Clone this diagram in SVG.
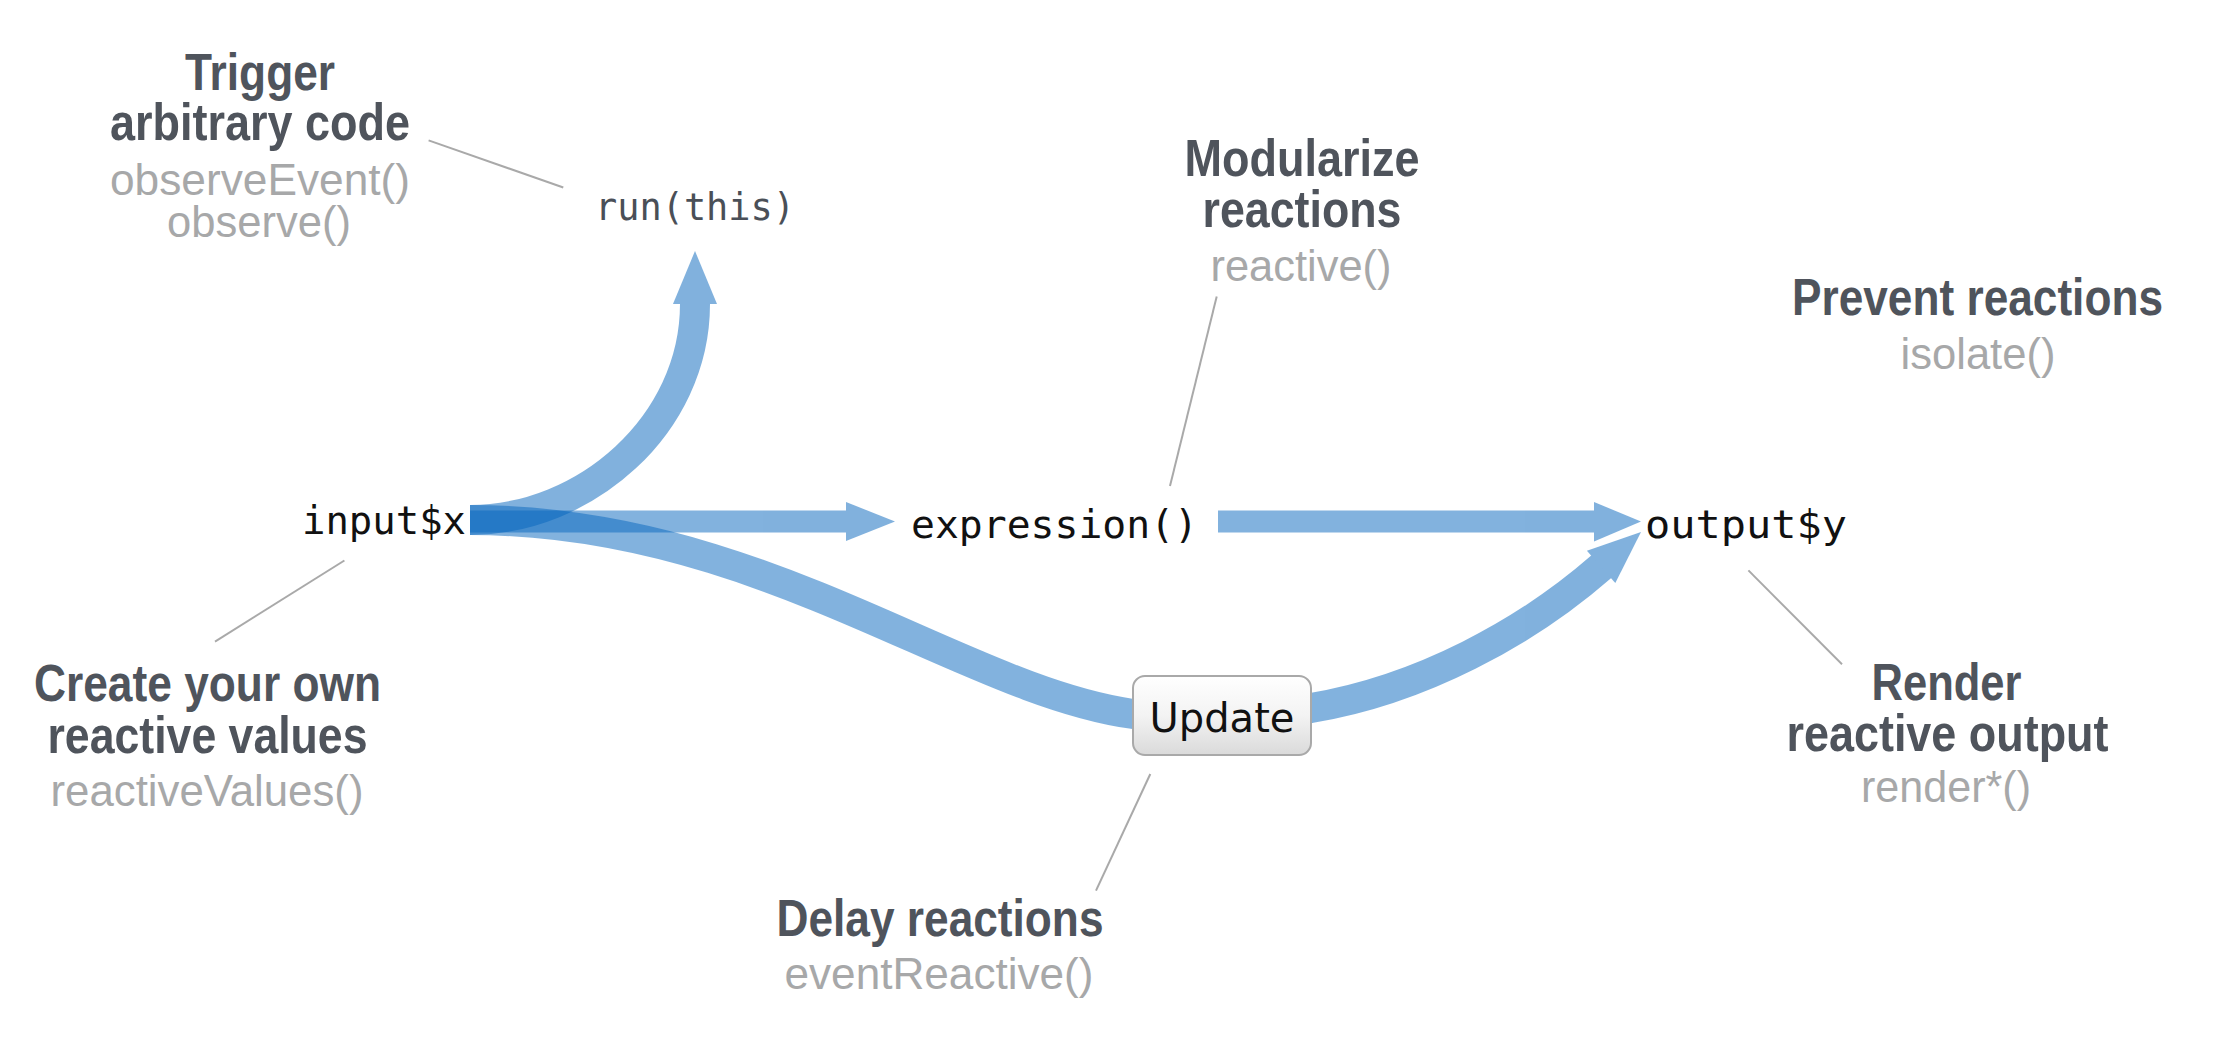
<svg xmlns="http://www.w3.org/2000/svg" width="2224" height="1038" viewBox="0 0 2224 1038">
  <defs>
    <linearGradient id="btnFill" x1="0" y1="0" x2="0" y2="1">
      <stop offset="0" stop-color="#ffffff"/>
      <stop offset="0.5" stop-color="#f3f3f3"/>
      <stop offset="1" stop-color="#dadada"/>
    </linearGradient>
    <style>
      .head { font-family: "Liberation Sans", Arial, sans-serif; font-weight: bold; font-size: 52px; fill: #4f545c; text-anchor: middle; }
      .fn { font-family: "Liberation Sans", Arial, sans-serif; font-size: 44px; fill: #a7a8a9; text-anchor: middle; }
      .code { font-family: "DejaVu Sans Mono", "Liberation Mono", monospace; font-size: 39px; fill: #111111; }
      .leader { stroke: #a9a9a9; stroke-width: 2; fill: none; }
      .flow { opacity: 0.5; }
      .flow path { fill: none; stroke: #0565bd; }
      .flow polygon { fill: #0565bd; }
      .btn-label { font-family: "DejaVu Sans", "Open Sans", sans-serif; font-size: 40px; fill: #111111; text-anchor: middle; }
    </style>
  </defs>
  <rect width="2224" height="1038" fill="#ffffff"/>

  <!-- connectors: reactive flows and annotation leaders -->
  <g id="connectors">
    <g id="flow-input-run" class="flow">
      <path d="M470,520 C585,520 695,425 695,304 L695,298" stroke-width="30"/>
      <polygon points="673,304 695,251 717,304"/>
    </g>
    <g id="flow-input-expression" class="flow">
      <path d="M470,521.5 H849" stroke-width="22"/>
      <polygon points="846,502 895,521.5 846,541"/>
    </g>
    <g id="flow-expression-output" class="flow">
      <path d="M1218,521.5 H1597" stroke-width="22"/>
      <polygon points="1594,502 1641,521.5 1594,541.5"/>
    </g>
    <g id="flow-input-update-output" class="flow">
      <path d="M470,520 C760,520 960,690 1133,714 L1311,708 C1420,690 1525.8,632.7 1601.1,566.9 L1603.4,564.9" stroke-width="30"/>
      <polygon points="1586.9,550.7 1641,532 1615.3,583.1"/>
    </g>
    <line class="leader" x1="428.6" y1="140.4" x2="563.3" y2="187.5"/>
    <line class="leader" x1="1216.7" y1="296.6" x2="1170" y2="486"/>
    <line class="leader" x1="344.4" y1="560.5" x2="215" y2="641.6"/>
    <line class="leader" x1="1150.3" y1="774" x2="1096" y2="890.7"/>
    <line class="leader" x1="1748.4" y1="570.4" x2="1842" y2="664.2"/>
  </g>

  <!-- code nodes -->
  <g id="node-input">
    <text class="code" x="302" y="534" textLength="164" lengthAdjust="spacingAndGlyphs">input$x</text>
  </g>
  <g id="node-run">
    <text class="code" x="595" y="220" style="font-size:37px;fill:#4a4f57" textLength="200" lengthAdjust="spacingAndGlyphs">run(this)</text>
  </g>
  <g id="node-expression">
    <text class="code" x="911" y="538" textLength="287" lengthAdjust="spacingAndGlyphs">expression()</text>
  </g>
  <g id="node-output">
    <text class="code" x="1645" y="538" textLength="202" lengthAdjust="spacingAndGlyphs">output$y</text>
  </g>
  <g id="node-update">
    <rect x="1133" y="676" width="178" height="79" rx="12" ry="12" fill="url(#btnFill)" stroke="#a9a9a9" stroke-width="2"/>
    <text class="btn-label" x="1222" y="732">Update</text>
  </g>

  <!-- annotations -->
  <g id="note-trigger">
    <text class="head" x="260" y="90" textLength="150" lengthAdjust="spacingAndGlyphs">Trigger</text>
    <text class="head" x="260" y="140" textLength="300" lengthAdjust="spacingAndGlyphs">arbitrary code</text>
    <text class="fn" x="260" y="195" textLength="300" lengthAdjust="spacingAndGlyphs">observeEvent()</text>
    <text class="fn" x="259" y="237" textLength="184" lengthAdjust="spacingAndGlyphs">observe()</text>
  </g>
  <g id="note-modularize">
    <text class="head" x="1302" y="176" textLength="235" lengthAdjust="spacingAndGlyphs">Modularize</text>
    <text class="head" x="1302" y="226.5" textLength="199" lengthAdjust="spacingAndGlyphs">reactions</text>
    <text class="fn" x="1301" y="281" textLength="181" lengthAdjust="spacingAndGlyphs">reactive()</text>
  </g>
  <g id="note-prevent">
    <text class="head" x="1977.5" y="315" textLength="371" lengthAdjust="spacingAndGlyphs">Prevent reactions</text>
    <text class="fn" x="1978" y="368.5" textLength="155" lengthAdjust="spacingAndGlyphs">isolate()</text>
  </g>
  <g id="note-create">
    <text class="head" x="207.5" y="701" textLength="347" lengthAdjust="spacingAndGlyphs">Create your own</text>
    <text class="head" x="207.5" y="752.5" textLength="320" lengthAdjust="spacingAndGlyphs">reactive values</text>
    <text class="fn" x="207" y="806" textLength="313" lengthAdjust="spacingAndGlyphs">reactiveValues()</text>
  </g>
  <g id="note-delay">
    <text class="head" x="940" y="935.5" textLength="327" lengthAdjust="spacingAndGlyphs">Delay reactions</text>
    <text class="fn" x="939" y="989" textLength="309" lengthAdjust="spacingAndGlyphs">eventReactive()</text>
  </g>
  <g id="note-render">
    <text class="head" x="1946.5" y="699.5" textLength="150" lengthAdjust="spacingAndGlyphs">Render</text>
    <text class="head" x="1947.5" y="751" textLength="322" lengthAdjust="spacingAndGlyphs">reactive output</text>
    <text class="fn" x="1946" y="802" textLength="170" lengthAdjust="spacingAndGlyphs">render*()</text>
  </g>
</svg>
